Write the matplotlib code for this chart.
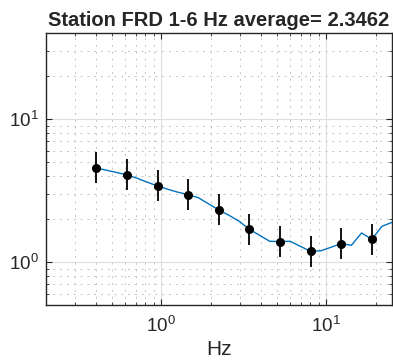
import matplotlib
matplotlib.use("Agg")
import matplotlib.pyplot as plt
from matplotlib.ticker import LogLocator, NullFormatter

plt.rcParams['font.family'] = ['Liberation Sans', 'DejaVu Sans']
plt.rcParams['mathtext.fontset'] = 'custom'
plt.rcParams['mathtext.rm'] = 'Liberation Sans'
plt.rcParams['mathtext.it'] = 'Liberation Sans:italic'
plt.rcParams['mathtext.bf'] = 'Liberation Sans:bold'

title = "Station FRD 1-6 Hz average= 2.3462"
xlabel = "Hz"

# dense smoothed curve
line_freq = [0.404, 0.465, 0.537, 0.619, 0.714, 0.823, 0.949, 1.094, 1.262, 1.455,
             1.678, 1.934, 2.231, 2.572, 2.966, 3.420, 3.943, 4.547, 5.243, 6.046,
             6.971, 8.039, 9.269, 10.69, 12.33, 14.21, 16.39, 18.90, 21.79, 25.13]
line_val = [4.557, 4.391, 4.232, 4.072, 3.859, 3.618, 3.409, 3.232, 3.079, 2.968,
            2.818, 2.557, 2.314, 2.125, 1.929, 1.695, 1.539, 1.397, 1.390, 1.397,
            1.288, 1.189, 1.198, 1.268, 1.346, 1.309, 1.597, 1.442, 1.779, 1.897]

# points with error bars
pt_freq = [0.404, 0.619, 0.949, 1.455, 2.231, 3.420, 5.243, 8.039, 12.33, 18.90]
pt_val = [4.557, 4.072, 3.409, 2.968, 2.314, 1.695, 1.390, 1.189, 1.346, 1.442]
pt_lo = [3.549, 3.171, 2.655, 2.312, 1.802, 1.320, 1.083, 0.926, 1.048, 1.123]
pt_hi = [5.851, 5.228, 4.377, 3.811, 2.971, 2.176, 1.785, 1.527, 1.728, 1.852]

fig = plt.figure(figsize=(3.93, 3.64), dpi=100)
ax = fig.add_axes([0.117, 0.162, 0.880, 0.747])

ax.plot(line_freq, line_val, color='#0072BD', lw=1.0, zorder=3)
yerr = [[v - l for v, l in zip(pt_val, pt_lo)], [h - v for v, h in zip(pt_val, pt_hi)]]
ax.errorbar(pt_freq, pt_val, yerr=yerr, fmt='o', color='black', ms=5.5,
            elinewidth=1.3, capsize=0, zorder=4)

ax.set_xscale('log')
ax.set_yscale('log')
ax.set_xlim(0.2, 25)
ax.set_ylim(0.5, 40)

ax.xaxis.set_major_locator(LogLocator(base=10, numticks=10))
ax.yaxis.set_major_locator(LogLocator(base=10, numticks=10))
ax.xaxis.set_minor_locator(LogLocator(base=10, subs=range(2, 10), numticks=20))
ax.yaxis.set_minor_locator(LogLocator(base=10, subs=range(2, 10), numticks=20))
ax.xaxis.set_minor_formatter(NullFormatter())
ax.yaxis.set_minor_formatter(NullFormatter())

ax.grid(True, which='major', color='#dedede', lw=0.8, ls='-', zorder=0)
ax.grid(True, which='minor', color='#c4c4c4', lw=0.7, ls=(0, (2, 5)), zorder=0)
ax.set_axisbelow(True)

for s in ax.spines.values():
    s.set_color('#262626')
    s.set_linewidth(1.0)
ax.tick_params(which='both', direction='in', top=True, right=True, colors='#262626',
               labelsize=13.5)
ax.tick_params(which='major', length=4)
ax.tick_params(which='minor', length=2.5)
ax.tick_params(axis='x', pad=8)
ax.tick_params(axis='y', pad=5)

ax.set_xlabel(xlabel, fontsize=15, color='#262626', labelpad=3)
ax.set_title(title, fontsize=14.5, fontweight='bold', color='#262626', pad=5)

fig.savefig('out.png', dpi=100)
